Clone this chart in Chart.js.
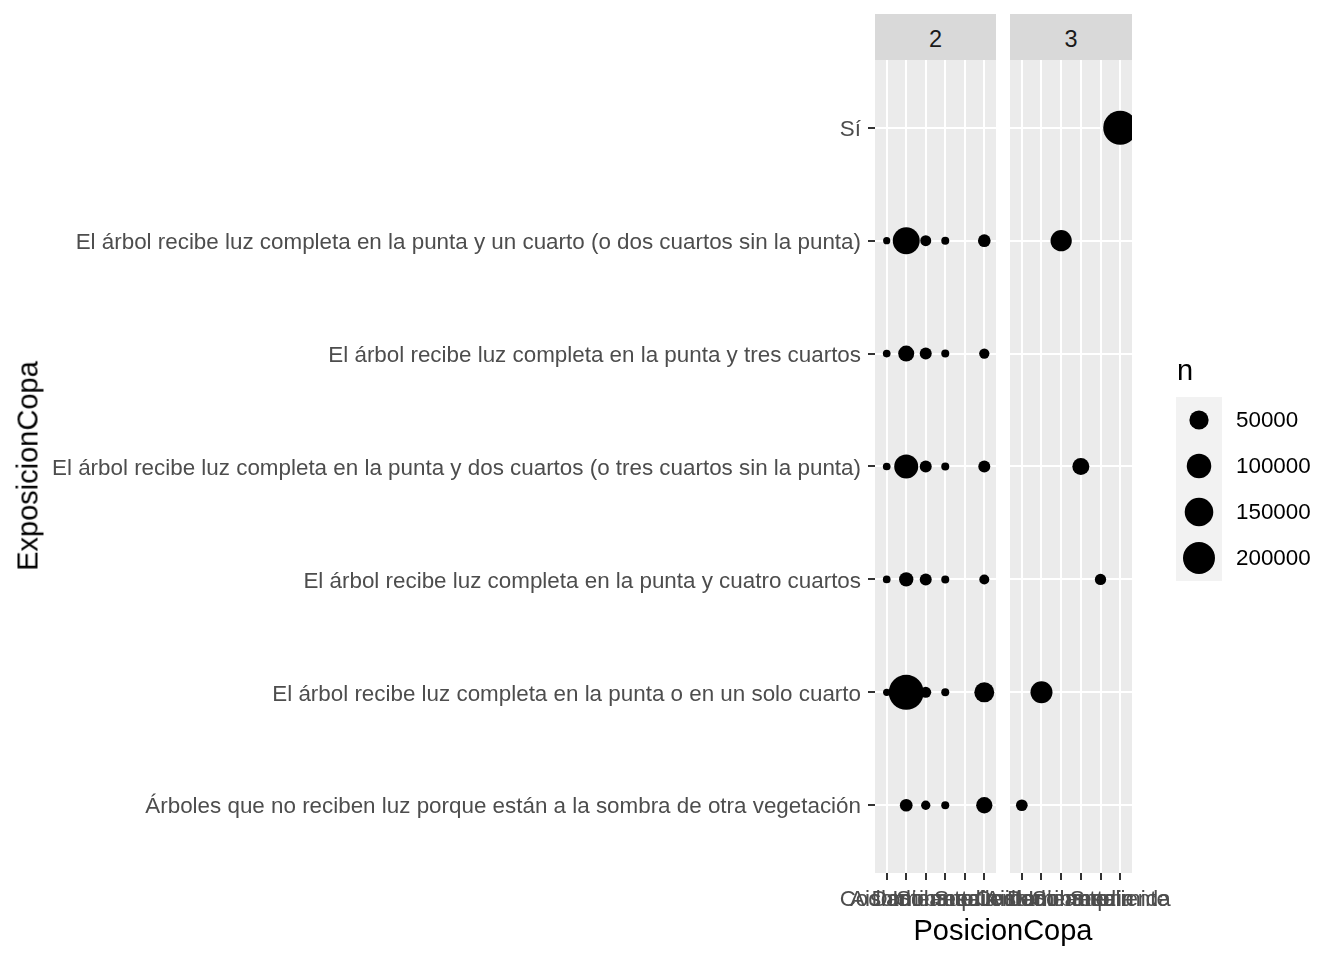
<!DOCTYPE html>
<html><head><meta charset="utf-8">
<script src="https://cdn.jsdelivr.net/npm/chart.js@4.4.1/dist/chart.umd.min.js"></script>
<style>
html,body{margin:0;padding:0;background:#fff;width:1344px;height:960px;overflow:hidden;font-family:'Liberation Sans',Arial,sans-serif;}
canvas{position:absolute;}
.strip{position:absolute;background:#D9D9D9;color:#1A1A1A;font-size:23.5px;display:flex;align-items:center;justify-content:center;box-sizing:border-box;padding-top:4px;}
.title{position:absolute;font-size:29px;line-height:1;white-space:nowrap;color:#000;}
</style></head><body>
<div class="strip" id="s1" style="left:875px;top:14px;width:121px;height:46px"></div>
<div class="strip" id="s2" style="left:1010px;top:14px;width:122px;height:46px"></div>
<canvas id="c1" width="1056" height="960" style="left:0;top:0;width:1056px;height:960px"></canvas>
<canvas id="c2" width="394" height="960" style="left:950px;top:0;width:394px;height:960px"></canvas>
<canvas id="c3" width="184" height="220" style="left:1160px;top:380px;width:184px;height:220px"></canvas>
<div class="title" style="left:1003px;top:930px;transform:translate(-50%,-50%)">PosicionCopa</div>
<div class="title" style="left:28px;top:466px;transform:translate(-50%,-50%) rotate(-90deg)">ExposicionCopa</div>
<div class="title" style="left:1177px;top:356px">n</div>
<script>
// ---- data ----
const posiciones = ["Aislado", "Codominante", "Dominante", "Intermedia", "Sobresaliente", "Suprimida"];
// bottom to top
const exposiciones = [
  "Árboles que no reciben luz porque están a la sombra de otra vegetación",
  "El árbol recibe luz completa en la punta o en un solo cuarto",
  "El árbol recibe luz completa en la punta y cuatro cuartos",
  "El árbol recibe luz completa en la punta y dos cuartos (o tres cuartos sin la punta)",
  "El árbol recibe luz completa en la punta y tres cuartos",
  "El árbol recibe luz completa en la punta y un cuarto (o dos cuartos sin la punta)",
  "Sí"
];
const facetas = ["2", "3"];
// faceta "2": n per posicion
const f2_sombra        = [null, 11800, 2400, 700, null, 29500];
const f2_soloCuarto    = [200, 250000, 6200, 700, null, 56000];
const f2_cuatroCuartos = [450, 18700, 9300, 700, null, 3800];
const f2_dosCuartos    = [450, 94000, 9300, 700, null, 9300];
const f2_tresCuartos   = [450, 27800, 9300, 700, null, 4400];
const f2_unCuarto      = [150, 129000, 6200, 700, null, 11800];
const f2_si            = [null, null, null, null, null, null];
// faceta "3"
const f3_sombra        = [8300, null, null, null, null, null];
const f3_soloCuarto    = [null, 74000, null, null, null, null];
const f3_cuatroCuartos = [null, null, null, null, 7100, null];
const f3_dosCuartos    = [null, null, null, 34000, null, null];
const f3_tresCuartos   = [null, null, null, null, null, null];
const f3_unCuarto      = [null, null, 67000, null, null, null];
const f3_si            = [null, null, null, null, null, 232000];
const legendBreaks = [50000, 100000, 150000, 200000];

const f2_rows = [f2_sombra, f2_soloCuarto, f2_cuatroCuartos, f2_dosCuartos, f2_tresCuartos, f2_unCuarto, f2_si];
const f3_rows = [f3_sombra, f3_soloCuarto, f3_cuatroCuartos, f3_dosCuartos, f3_tresCuartos, f3_unCuarto, f3_si];

document.getElementById('s1').textContent = facetas[0];
document.getElementById('s2').textContent = facetas[1];

const allVals = f2_rows.concat(f3_rows).flat().filter(v => v !== null);
const nMax = Math.max(...allVals);
function radius(n) { return (6.5 + 28.5 * Math.sqrt(n / nMax)) / 2; }

function points(rows) {
  const pts = [];
  rows.forEach((row, i) => row.forEach((v, j) => { if (v !== null) pts.push({x: j, y: i, r: radius(v), n: v}); }));
  return pts;
}

Chart.defaults.font.family = "'Liberation Sans', Arial, sans-serif";
Chart.defaults.font.size = 22.4;

const panelBg = {
  id: 'panelBg',
  beforeDraw(chart, args, opts) {
    const a = chart.chartArea, c = chart.ctx;
    c.save(); c.fillStyle = opts.color || '#EBEBEB';
    c.fillRect(a.left, a.top, a.right - a.left, a.bottom - a.top);
    c.restore();
  }
};

function makePanel(id, rows, showY, pad) {
  return new Chart(document.getElementById(id), {
    type: 'bubble',
    data: { datasets: [{ data: points(rows), backgroundColor: '#000000', borderWidth: 0, clip: 0 }] },
    options: {
      responsive: false, maintainAspectRatio: false, animation: false, events: [],
      layout: { padding: pad, autoPadding: false },
      plugins: { legend: { display: false }, tooltip: { enabled: false }, panelBg: { color: '#EBEBEB' } },
      scales: {
        x: {
          type: 'linear', min: -0.6, max: posiciones.length - 1 + 0.6,
          afterBuildTicks: s => { s.ticks = posiciones.map((_, i) => ({value: i})); },
          afterFit: s => { s.height = 87; },
          ticks: { autoSkip: false, maxRotation: 0, minRotation: 0, color: '#4D4D4D', padding: 6,
                   callback: v => posiciones[v] },
          grid: { color: '#FFFFFF', lineWidth: 2, tickColor: '#333333', tickLength: 7, tickWidth: 2 },
          border: { display: false }
        },
        y: {
          type: 'linear', min: -0.6, max: exposiciones.length - 1 + 0.6,
          afterBuildTicks: s => { s.ticks = exposiciones.map((_, i) => ({value: i})); },
          afterFit: s => { s.width = showY ? 875 : 0; },
          ticks: { display: showY, autoSkip: false, color: '#4D4D4D', padding: 7, labelOffset: 2,
                   callback: v => exposiciones[v] },
          grid: { color: '#FFFFFF', lineWidth: 2, drawTicks: showY, tickColor: '#333333', tickLength: 7, tickWidth: 2 },
          border: { display: false }
        }
      }
    },
    plugins: [panelBg]
  });
}

makePanel('c1', f2_rows, true, {left: 0, right: 60, top: 60, bottom: 0});
makePanel('c2', f3_rows, false, {left: 60, right: 212, top: 60, bottom: 0});

new Chart(document.getElementById('c3'), {
  type: 'bubble',
  data: { datasets: [{ data: legendBreaks.map((v, i) => ({x: 0, y: i, r: radius(v)})), backgroundColor: '#000000', borderWidth: 0, clip: false }] },
  options: {
    responsive: false, maintainAspectRatio: false, animation: false, events: [],
    layout: { padding: {left: 16, right: 0, top: 17, bottom: 19}, autoPadding: false },
    plugins: { legend: { display: false }, tooltip: { enabled: false }, panelBg: { color: '#F2F2F2' } },
    scales: {
      x: { type: 'linear', min: -1, max: 1, display: false },
      y: {
        type: 'linear', position: 'right', reverse: true, min: -0.5, max: legendBreaks.length - 0.5,
        afterBuildTicks: s => { s.ticks = legendBreaks.map((_, i) => ({value: i})); },
        afterFit: s => { s.width = 122; s.paddingTop = 0; s.paddingBottom = 0; },
        ticks: { color: '#000000', padding: 14, labelOffset: 1, callback: v => String(legendBreaks[v]) },
        grid: { display: false, drawTicks: false },
        border: { display: false }
      }
    }
  },
  plugins: [panelBg]
});
</script>
</body></html>
